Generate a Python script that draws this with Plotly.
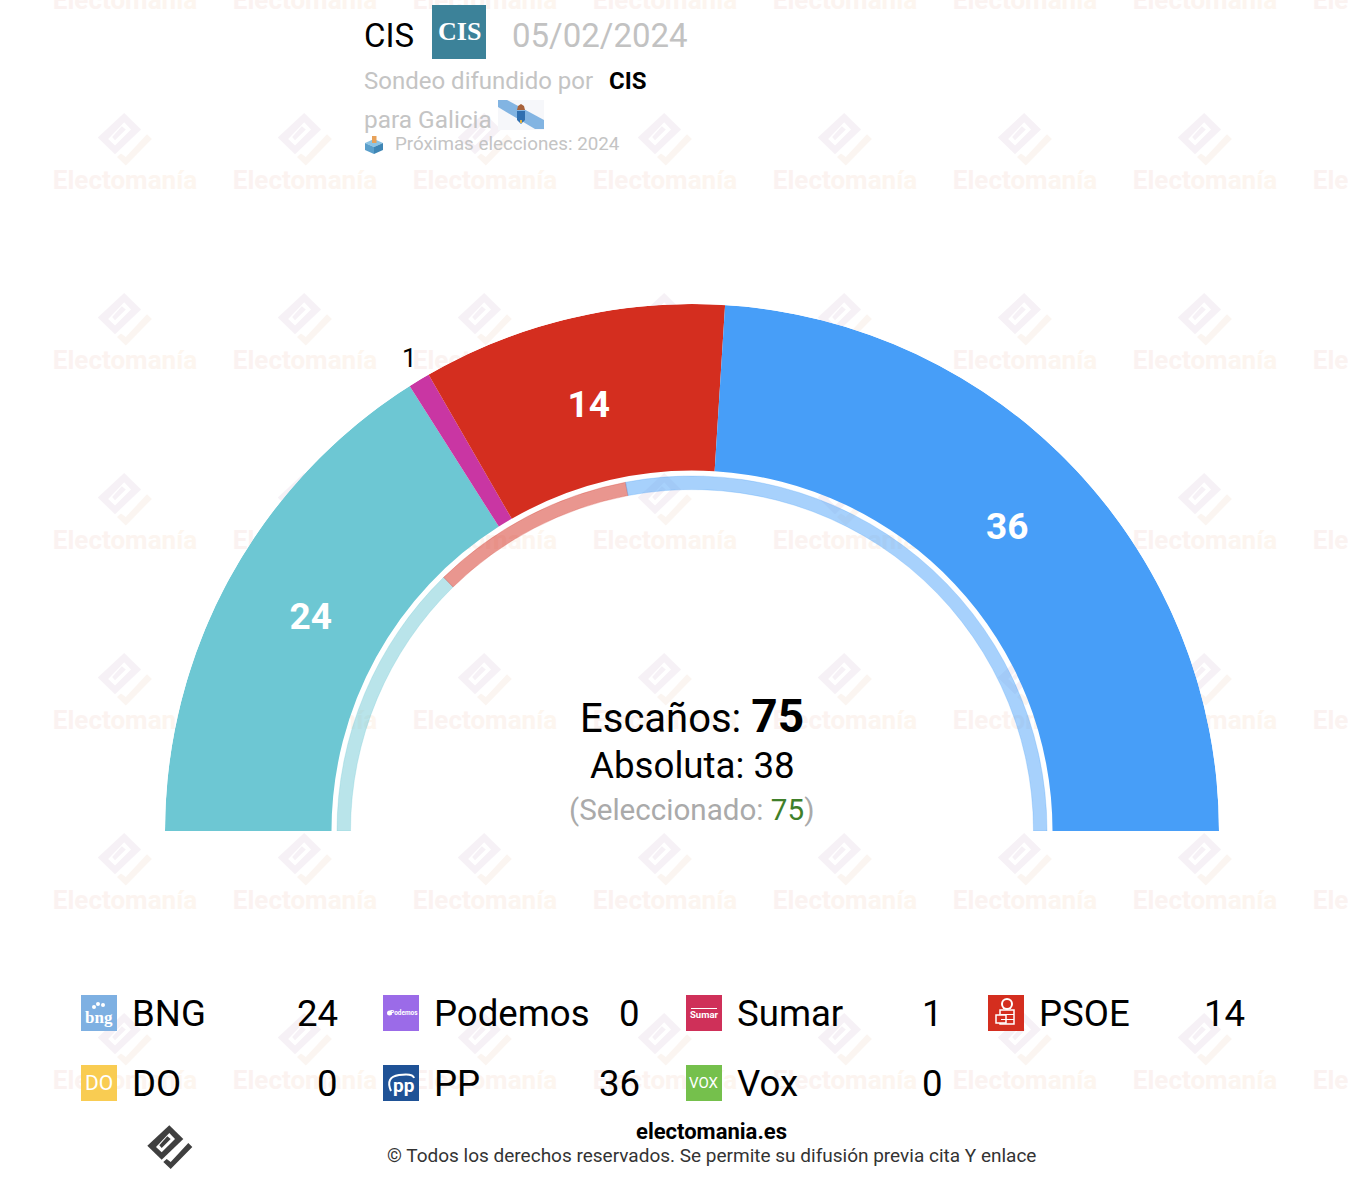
import plotly.graph_objects as go

# seats, outer ring = this poll, inner ring = previous result
parties = ['BNG', 'Sumar', 'PSOE', 'PP']
seats = [24, 1, 14, 36]
colors = ['#6dc7d3', '#c936a3', '#d42e1f', '#479ef8']
prev_seats = [19, 14, 42]
prev_colors = ['rgba(109,199,211,.48)', 'rgba(212,46,31,.5)', 'rgba(71,158,248,.48)']
prev_edges = ['rgba(109,199,211,.25)', 'rgba(212,46,31,.25)', 'rgba(71,158,248,.25)']

# big labels inside the ring, the 1 goes outside it
label_text = ['24', '14', '36']
label_theta = [29, 76.3, 136.3]
label_r = [436, 436, 436]

legend_names = ['BNG', 'Podemos', 'Sumar', 'PSOE', 'DO', 'PP', 'Vox']
legend_values = [24, 0, 1, 14, 0, 36, 0]
legend_colors = ['#7eb0e2', '#9b6be8', '#cf3059', '#d42e1f', '#f9cc52', '#1f5296', '#75c04c']
legend_marks = ['bng', 'Podemos', 'Sumar', '', 'DO', 'pp', 'VOX']

total = 75
W, H = 1348, 1180
FONT = 'Roboto'
cx, cy, r_out = 692, 831, 527

shapes = []
annots = []


def txt(x, y, s, size, color='#000', anchor='left', font=FONT):
    annots.append(dict(x=x, y=y, xref='x', yref='y', text=s, showarrow=False, xanchor=anchor, yanchor='middle',
                       borderpad=0, borderwidth=0, font=dict(family=font, size=size, color=color)))


def poly(pts, ox=0, oy=0, k=1, color='#000', layer='above'):
    d = 'M' + 'L'.join(f'{ox + p[0] * k:.1f},{oy + p[1] * k:.1f}' for p in pts) + 'Z'
    shapes.append(dict(type='path', xref='x', yref='y', path=d, fillcolor=color, line_width=0, layer=layer))


def rect(x0, y0, x1, y1, color, layer='above', line=0, linecolor=None):
    shapes.append(dict(type='rect', xref='x', yref='y', x0=x0, y0=y0, x1=x1, y1=y1, fillcolor=color,
                       line=dict(width=line, color=linecolor), layer=layer))


def dot(x0, y0, x1, y1, color='#fff'):
    shapes.append(dict(type='circle', xref='x', yref='y', x0=x0, y0=y0, x1=x1, y1=y1,
                       fillcolor=color, line_width=0, layer='above'))


# electomania logo, outline relative to its centre
logo_main = [(-0.7, -21.7), (13.3, -8), (-8.3, 12.7), (-22.7, -1.3)]
logo_slot = [(-0.7, -14), (5, -8), (-8.3, 5.3), (-14, 0)]
logo_bar = [(-2.7, -10.7), (0.7, -8), (-8.3, 1), (-10.7, -1.7)]
logo_hook = [(18.3, -4), (22.3, 0), (0.7, 22), (-6.7, 15), (-3.3, 12), (0.7, 15)]


def logo(ox, oy, k, c_main, c_hook, c_bg='#fff', layer='below'):
    poly(logo_main, ox, oy, k, c_main, layer)
    poly(logo_slot, ox, oy, k, c_bg, layer)
    poly(logo_bar, ox, oy, k, c_main, layer)
    poly(logo_hook, ox, oy, k, c_hook, layer)


# watermark grid
wm_x, wm_y, wm_text = [], [], []
wm_colors = ['#fbf2f1', '#fbf2f1', '#fbf3f1', '#fbf3f1', '#fcf3f0', '#fcf4f0', '#fcf4f0', '#fcf5f0', '#fdf5ef', '#fdf6ef', '#fdf6ef']
wm_label = ''.join(f'<span style="color:{c}">{ch}</span>' for ch, c in zip('Electomanía', wm_colors))
for j in range(7):
    for i in range(8):
        wm_x.append(125 + 180 * i)
        wm_y.append(180 * j + 2)
        wm_text.append(wm_label)
        logo(125 + 180 * i, 180 * j - 41, 1.2, '#f6f1f6', '#fbf5f1')

fig = go.Figure()
fig.add_trace(go.Scatter(x=wm_x, y=wm_y, mode='text', text=wm_text, hoverinfo='skip', showlegend=False,
                         textfont=dict(family=FONT, size=26, weight=700), textposition='middle center'))


def ring(values, cols, edges, r0, r1):
    done = 0
    thetas, widths = [], []
    for v in values:
        widths.append(v * 180 / total)
        thetas.append((done + v / 2) * 180 / total)
        done += v
    fig.add_trace(go.Barpolar(r=[r1 - r0] * len(values), base=[r0] * len(values), theta=thetas, width=widths,
                              marker=dict(color=cols, line=dict(color=edges, width=1 if edges != cols else 0)),
                              hoverinfo='skip', showlegend=False))


ring(seats, colors, colors, 360.5, r_out)
ring(prev_seats, prev_colors, prev_edges, 341.5, 355)

fig.add_trace(go.Scatterpolar(r=label_r, theta=label_theta, mode='text', cliponaxis=False,
                              text=[f'<b>{t}</b>' for t in label_text],
                              textfont=dict(family=FONT, size=37, color='#fff'),
                              hoverinfo='skip', showlegend=False))
txt(409, 358, '1', 26, '#000', 'center')

# header
txt(364, 35, 'CIS', 33)
rect(432, 5, 486, 59, '#3c8299')
txt(459, 31, '<b>CIS</b>', 26, '#fff', 'center', 'Liberation Serif')
txt(512, 35, '05/02/2024', 33, '#c2c2c2')
txt(364, 81, 'Sondeo difundido por', 24, '#c4c4c4')
txt(609, 81, '<b>CIS</b>', 24, '#000')
txt(364, 119, 'para Galicia', 24.4, '#c4c4c4')
rect(498, 100, 544, 130, '#f6f7fa')
poly([(498, 100), (507, 100), (544, 120), (544, 129), (535, 129), (498, 107)], color='#82b4e2')
poly([(517, 111), (525, 111), (525, 120), (521, 124), (517, 120)], color='#2f6fb0')
poly([(517, 110), (518, 106), (521, 104), (524, 106), (525, 110)], color='#a8623a')
rect(520, 120, 522, 123, '#e0b040')
# ballot box
poly([(365, 143), (374, 139), (383, 143), (374, 147)], color='#8cc4e4')
poly([(365, 143), (374, 147), (374, 154), (365, 150)], color='#5a9fcb')
poly([(374, 147), (383, 143), (383, 150), (374, 154)], color='#3f86b5')
rect(372, 136, 376.5, 143, '#e8a25a')
txt(395, 144, 'Próximas elecciones: 2024', 18.8, '#c4c4c4')

# centre text
txt(692, 716, 'Escaños: <b><span style="font-size:46px">75</span></b>', 40, '#000', 'center')
txt(692, 765, 'Absoluta: 38', 36.7, '#000', 'center')
txt(691, 810, '(Seleccionado: <span style="color:#3f7f2a">75</span>)', 29.6, '#aaaaaa', 'center')

# legend
col_x = [81, 383, 686, 988]
for n, name in enumerate(legend_names):
    c = n % 4
    row = n // 4
    x0 = col_x[c]
    y0 = 995 + 70 * row
    ym = y0 + 18
    rect(x0, y0, x0 + 36, y0 + 36, legend_colors[n])
    txt(x0 + 51, ym, name, 36.6)
    txt(x0 + 256.5, ym, str(legend_values[n]), 36.6, '#000', 'right')
    mark = legend_marks[n]
    if mark == 'bng':
        txt(x0 + 18, ym + 4, '<b>bng</b>', 17, '#fff', 'center', 'Liberation Serif')
        dot(x0 + 15, y0 + 7, x0 + 19, y0 + 11)
        dot(x0 + 20, y0 + 8, x0 + 24, y0 + 12)
        dot(x0 + 11, y0 + 10, x0 + 15, y0 + 14)
    elif mark == 'Podemos':
        txt(x0 + 20.5, ym, '<b>Podemos</b>', 6.5, '#fff', 'center')
        dot(x0 + 4, ym - 2.5, x0 + 9, ym + 2.5)
    elif mark == 'Sumar':
        txt(x0 + 18, ym + 1.5, '<b>Sumar</b>', 9.5, '#fff', 'center')
        rect(x0 + 5, ym - 5, x0 + 31, ym - 4, '#fff')
    elif mark == 'DO':
        txt(x0 + 18, ym, 'DO', 21, '#fff', 'center')
    elif mark == 'pp':
        txt(x0 + 21, ym + 2, '<b>pp</b>', 19, '#fff', 'center')
        shapes.append(dict(type='path', xref='x', yref='y',
                           path=f'M{x0 + 8},{ym + 8} Q{x0 + 2},{ym - 6} {x0 + 16},{ym - 8} T{x0 + 31},{ym - 5}',
                           line=dict(color='#fff', width=2), layer='above'))
    elif mark == 'VOX':
        txt(x0 + 18, ym, 'VOX', 15, '#fff', 'center')
    elif name == 'PSOE':
        # rose and fist
        dot(x0 + 13, y0 + 3, x0 + 25, y0 + 15)
        dot(x0 + 15, y0 + 5, x0 + 23, y0 + 13, legend_colors[n])
        rect(x0 + 12, y0 + 15, x0 + 26, y0 + 29, legend_colors[n], line=1.5, linecolor='#fff')
        rect(x0 + 8, y0 + 20, x0 + 18, y0 + 28, legend_colors[n], line=1.5, linecolor='#fff')
        rect(x0 + 13, y0 + 19, x0 + 26, y0 + 20, '#fff')
        rect(x0 + 13, y0 + 24, x0 + 26, y0 + 25, '#fff')

# footer
logo(170, 1147, 1, '#3f3f3f', '#3f3f3f', layer='above')
txt(711, 1131, '<b>electomania.es</b>', 22, '#000', 'center')
txt(711, 1155, '© Todos los derechos reservados. Se permite su difusión previa cita Y enlace', 19, '#333', 'center')

fig.update_layout(
    width=W, height=H, margin=dict(l=0, r=0, t=0, b=0), paper_bgcolor='#fff', plot_bgcolor='rgba(0,0,0,0)',
    xaxis=dict(range=[0, W], visible=False, fixedrange=True),
    yaxis=dict(range=[H, 0], visible=False, fixedrange=True),
    polar=dict(
        domain=dict(x=[(cx - r_out) / W, (cx + r_out) / W], y=[(H - cy) / H, (H - cy + r_out) / H]),
        sector=[0, 180], bgcolor='rgba(0,0,0,0)', bargap=0,
        radialaxis=dict(range=[0, r_out], visible=False),
        angularaxis=dict(rotation=180, direction='clockwise', visible=False),
    ),
    shapes=shapes, annotations=annots, showlegend=False,
)

# page body has a default margin, drop it so the figure fills the window
fig.write_html('out.html', config={'displayModeBar': False},
               post_script="document.body.style.margin='0';document.documentElement.style.overflow='hidden';")
